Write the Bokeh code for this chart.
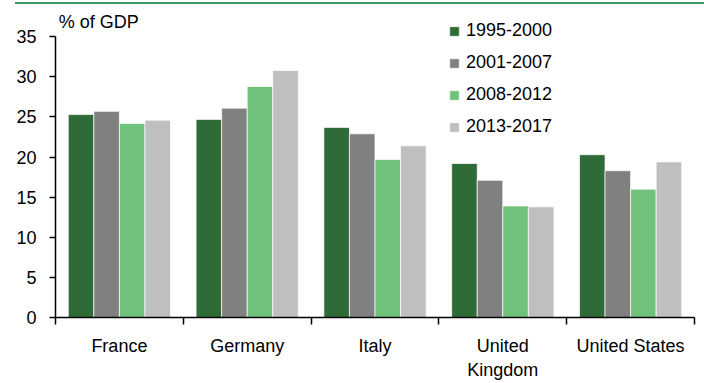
from bokeh.plotting import figure
from bokeh.models import (Range1d, FixedTicker, Legend, LegendItem, Label, Div,
                          ColumnDataSource)
from bokeh.layouts import column
from bokeh.embed import file_html
from bokeh.resources import INLINE
import numpy as np

# ---- data ----
countries = ["France", "Germany", "Italy", "United Kingdom", "United States"]
country_labels = ["France", "Germany", "Italy", "United\nKingdom", "United States"]
periods = ["1995-2000", "2001-2007", "2008-2012", "2013-2017"]
v_1995_2000 = [25.3, 24.7, 23.7, 19.2, 20.3]
v_2001_2007 = [25.7, 26.1, 22.9, 17.1, 18.3]
v_2008_2012 = [24.2, 28.8, 19.7, 13.9, 16.0]
v_2013_2017 = [24.6, 30.8, 21.4, 13.8, 19.4]
y_ticks = [0, 5, 10, 15, 20, 25, 30, 35]
y_axis_title = "% of GDP"

series = [v_1995_2000, v_2001_2007, v_2008_2012, v_2013_2017]
colors = ["#2e6b37", "#808080", "#70c27b", "#bfbfbf"]
FONT = "Liberation Sans"

n = len(countries)
centers = np.arange(n) + 0.5
bar_w = 0.2
offsets = [-0.3, -0.1, 0.1, 0.3]

p = figure(width=704, height=378, output_backend="svg", toolbar_location=None,
           x_range=Range1d(0, n), y_range=Range1d(0, 38.9),
           min_border_left=55, min_border_right=10, min_border_top=0,
           min_border_bottom=66)
p.outline_line_color = None
p.grid.visible = False
p.background_fill_color = "white"
p.border_fill_color = "white"

items = []
for i, (vals, col, lab) in enumerate(zip(series, colors, periods)):
    src = ColumnDataSource(dict(x=list(centers + offsets[i]), top=vals))
    r = p.vbar(x="x", top="top", width=bar_w, source=src, fill_color=col,
               line_color="white", line_width=1, line_alpha=0.7)
    items.append(LegendItem(label=lab, renderers=[r]))

# x axis
xa = p.xaxis[0]
xa.ticker = FixedTicker(ticks=list(centers), minor_ticks=list(np.arange(n + 1)))
xa.major_label_overrides = {float(c): l for c, l in zip(centers, country_labels)}
xa.major_tick_line_color = None
xa.major_tick_out = 0
xa.major_tick_in = 0
xa.minor_tick_line_color = "black"
xa.minor_tick_line_width = 1.5
xa.minor_tick_out = 7
xa.minor_tick_in = 0
xa.axis_line_color = "black"
xa.axis_line_width = 1.5
xa.major_label_text_font = FONT
xa.major_label_text_font_size = "18px"
xa.major_label_text_color = "black"
xa.major_label_standoff = 11

# y axis
ya = p.yaxis[0]
ya.ticker = FixedTicker(ticks=y_ticks)
ya.bounds = (0, 35)
ya.minor_tick_line_color = None
ya.major_tick_out = 6
ya.major_tick_in = 0
ya.major_tick_line_color = "black"
ya.major_tick_line_width = 1.5
ya.axis_line_color = "black"
ya.axis_line_width = 1.5
ya.major_label_text_font = FONT
ya.major_label_text_font_size = "18px"
ya.major_label_text_color = "black"
ya.major_label_standoff = 13

legend = Legend(items=items, location=(393, 180), orientation="vertical",
                glyph_width=12, glyph_height=12, label_height=20, spacing=11,
                label_standoff=6, padding=0, margin=0,
                border_line_color=None, background_fill_alpha=0,
                label_text_font=FONT, label_text_font_size="18px",
                label_text_color="black")
p.add_layout(legend)

p.add_layout(Label(x=0.025, y=36.8, text=y_axis_title, text_font=FONT,
                   text_font_size="18px", text_baseline="middle",
                   text_color="black"))

topline = Div(width=689, height=2, margin=(2, 0, 1, 15),
              styles={"background-color": "#3c9a66"})
p.margin = 0
layout = column(topline, p, spacing=0)

open("out.html", "w").write(file_html(layout, INLINE))
